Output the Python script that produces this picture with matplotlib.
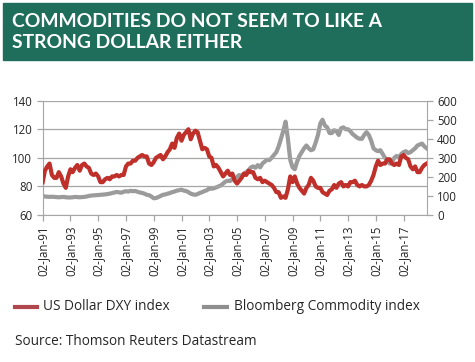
import matplotlib
matplotlib.use("Agg")
import matplotlib.pyplot as plt
from matplotlib.patches import Rectangle
from matplotlib.lines import Line2D
import pandas as pd
import datetime as dt

# Bi-monthly readings (Jan, Mar, May, Jul, Sep, Nov), 1991 .. Sep 2018
dxy = [
    83, 91, 94, 96, 88, 86,      # 1991
    86, 90, 87, 82, 79, 87,      # 1992
    92, 90, 93, 95, 91, 95,      # 1993
    96, 94, 93, 89, 88, 89,      # 1994
    87, 83, 83, 85, 86, 85,      # 1995
    87, 87, 88, 87, 88, 88,      # 1996
    94, 96, 96, 98, 98, 100,     # 1997
    101, 102, 101, 101, 96, 95,  # 1998
    97, 100, 101, 102, 99, 101,  # 1999
    104, 106, 110, 107, 114, 117,  # 2000
    112, 116, 118, 120, 113, 117,  # 2001
    119, 118, 112, 106, 107, 106,  # 2002
    101, 100, 94, 95, 93, 90,    # 2003
    87, 89, 91, 88, 89, 84,      # 2004
    82, 84, 86, 89, 88, 91,      # 2005
    90, 90, 86, 85, 86, 83,      # 2006
    84, 83, 82, 81, 79, 76,      # 2007
    76, 72, 73, 72, 78, 87,      # 2008
    83, 87, 82, 79, 77, 75,      # 2009
    79, 81, 86, 84, 80, 79,      # 2010
    79, 76, 75, 74, 77, 78,      # 2011
    81, 79, 82, 83, 80, 81,      # 2012
    80, 83, 83, 84, 81, 80,      # 2013
    81, 80, 80, 81, 84, 88,      # 2014
    94, 98, 95, 96, 96, 99,      # 2015
    99, 96, 95, 96, 95, 101,     # 2016
    102, 100, 99, 94, 92, 94,    # 2017
    90, 90, 93, 95, 96,          # 2018
]

bcom = [
    100, 97, 96, 95, 96, 95,     # 1991
    94, 93, 94, 95, 93, 92,      # 1992
    92, 93, 95, 94, 93, 94,      # 1993
    95, 97, 100, 102, 103, 104,  # 1994
    105, 106, 107, 108, 110, 112,  # 1995
    115, 118, 121, 119, 117, 122,  # 1996
    125, 123, 127, 125, 126, 122,  # 1997
    118, 116, 112, 106, 104, 97,   # 1998
    88, 89, 94, 100, 106, 108,     # 1999
    112, 115, 120, 123, 128, 130,  # 2000
    133, 128, 126, 120, 112, 108,  # 2001
    106, 110, 116, 120, 126, 130,  # 2002
    140, 138, 140, 145, 150, 155,  # 2003
    165, 175, 180, 178, 190, 188,  # 2004
    200, 210, 205, 215, 225, 235,  # 2005
    250, 255, 248, 262, 250, 270,  # 2006
    280, 290, 288, 300, 315, 330,  # 2007
    360, 400, 440, 490, 400, 290,  # 2008
    250, 240, 280, 310, 330, 350,  # 2009
    365, 350, 340, 345, 380, 420,  # 2010
    480, 500, 470, 460, 430, 430,  # 2011
    445, 440, 420, 455, 460, 450,  # 2012
    450, 440, 425, 415, 405, 400,  # 2013
    400, 420, 435, 420, 390, 350,  # 2014
    340, 335, 340, 320, 300, 285,  # 2015
    270, 275, 300, 310, 300, 320,  # 2016
    330, 335, 325, 330, 340, 350,  # 2017
    365, 370, 375, 360, 350,       # 2018
]

dates = [dt.datetime(1991, 1, 2)] + list(pd.date_range("1991-03-01", periods=len(dxy) - 1, freq="2MS"))

tick_years = list(range(1991, 2018, 2))
tick_labels = ["02-Jan-%02d" % (y % 100) for y in tick_years]

left_ticks = [60, 80, 100, 120, 140]
right_ticks = [0, 100, 200, 300, 400, 500, 600]

RED = "#c0302b"
GREY = "#9b9b9b"
GREEN = "#1f6e5c"
AXC = "#a6a6a6"
TXT = "#262626"

W, H = 475, 362
fig = plt.figure(figsize=(W / 100, H / 100), dpi=100)
fig.patch.set_facecolor("white")

# header band
fig.add_artist(Rectangle((3 / W, 1 - 60 / H), 469 / W, 57 / H,
                         transform=fig.transFigure, color=GREEN, zorder=0))
tfont = dict(family="Lato", weight="bold", size=13.9, color="white")
fig.text(11.7 / W, 1 - 26.7 / H, "COMMODITIES DO NOT SEEM TO LIKE A",
         va="baseline", ha="left", **tfont)
fig.text(11.7 / W, 1 - 48.3 / H, "STRONG DOLLAR EITHER",
         va="baseline", ha="left", **tfont)

ax = fig.add_axes([42.7 / W, 1 - 215 / H, (426.7 - 42.7) / W, (215 - 100.7) / H])
ax2 = ax.twinx()

ax.set_ylim(60, 140)
ax.set_yticks(left_ticks)
ax2.set_ylim(0, 600)
ax2.set_yticks(right_ticks)
ax.set_xlim(dt.datetime(1991, 1, 2), dt.datetime(2018, 9, 1))
ax.set_xticks([dt.datetime(y, 1, 2) for y in tick_years])
ax.set_xticklabels(tick_labels, rotation=90)

ax.grid(axis="y", color=AXC, lw=0.9)
ax.set_axisbelow(True)

ax2.plot(dates, bcom, color=GREY, lw=3.0, solid_joinstyle="round", zorder=2)
ax.set_zorder(ax2.get_zorder() + 1)
ax.patch.set_visible(False)
ax.plot(dates, dxy, color=RED, lw=3.0, solid_joinstyle="round", zorder=3)

for a in (ax, ax2):
    for s in a.spines.values():
        s.set_visible(False)
ax.spines["left"].set_visible(True)
ax.spines["left"].set_color(AXC)
ax.spines["bottom"].set_visible(True)
ax.spines["bottom"].set_color(AXC)
ax2.spines["right"].set_visible(True)
ax2.spines["right"].set_color(AXC)

ax.tick_params(axis="both", colors=AXC, labelcolor=TXT, length=4, width=0.9)
ax2.tick_params(axis="y", colors=AXC, labelcolor=TXT, length=4, width=0.9)
for lab in ax.get_xticklabels() + ax.get_yticklabels() + ax2.get_yticklabels():
    lab.set_fontfamily("Open Sans")
    lab.set_fontsize(8.3)

# legend
ly = 1 - 306.5 / H
fig.add_artist(Line2D([15 / W, 37 / W], [ly, ly], transform=fig.transFigure,
                      color="#b0474c", lw=3))
fig.text(43 / W, ly, "US Dollar DXY index", va="center", ha="left",
         family="Open Sans", size=9.8, color=TXT)
fig.add_artist(Line2D([204 / W, 227 / W], [ly, ly], transform=fig.transFigure,
                      color="#8f8f8f", lw=3))
fig.text(234 / W, ly, "Bloomberg Commodity index", va="center", ha="left",
         family="Open Sans", size=9.8, color=TXT)

fig.text(15 / W, 1 - 341.5 / H, "Source: Thomson Reuters Datastream",
         va="center", ha="left", family="Open Sans", size=9.8, color=TXT)

fig.savefig("out.png", dpi=100)
